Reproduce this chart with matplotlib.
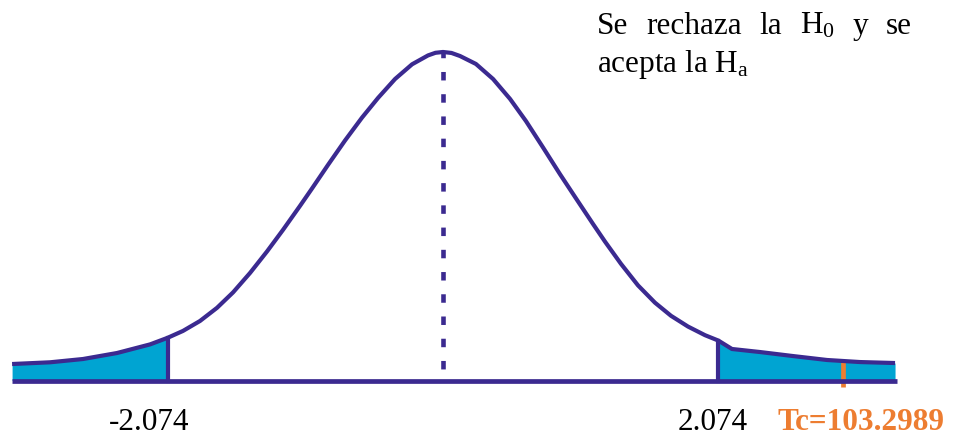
import numpy as np
import matplotlib.pyplot as plt

plt.rcParams['font.family'] = 'Liberation Serif'
plt.rcParams['mathtext.fontset'] = 'custom'
plt.rcParams['mathtext.rm'] = 'Liberation Serif'
plt.rcParams['mathtext.it'] = 'Liberation Serif:italic'
plt.rcParams['mathtext.bf'] = 'Liberation Serif:bold'

# %%
# sketch of the t distribution (schematic, tails drawn wide)
curve_t = [-3.245, -2.959, -2.711, -2.455, -2.206, -2.074, -1.958, -1.830,
           -1.702, -1.581, -1.453, -1.325, -1.205, -1.077, -0.986, -0.866,
           -0.738, -0.610, -0.489, -0.361, -0.233, -0.113, -0.057, 0.0,
           0.064, 0.128, 0.248, 0.377, 0.505, 0.625, 0.753, 0.881,
           1.002, 1.130, 1.220, 1.340, 1.468, 1.596, 1.717, 1.845,
           1.973, 2.074, 2.176, 2.387, 2.636, 2.892, 3.140, 3.404]
curve_d = [0.0201, 0.0222, 0.0262, 0.0335, 0.0440, 0.0520, 0.0604, 0.0725,
           0.0885, 0.1073, 0.1310, 0.1572, 0.1834, 0.2126, 0.2339, 0.2625,
           0.2922, 0.3201, 0.3441, 0.3671, 0.3850, 0.3958, 0.3990, 0.4000,
           0.3988, 0.3951, 0.3854, 0.3671, 0.3428, 0.3158, 0.2838, 0.2512,
           0.2216, 0.1905, 0.1691, 0.1421, 0.1159, 0.0948, 0.0788, 0.0657,
           0.0552, 0.0486, 0.0384, 0.0347, 0.0298, 0.0250, 0.0225, 0.0213]

t_crit = 2.074          # critical value
tc_value = 103.2989     # test statistic
tc_pos = 3.01           # where Tc sits on the (broken) axis
tc_height = 0.0225

line1_words = ['Se', 'rechaza', 'la', r'H$_0$', 'y', 'se']
line2 = r'acepta la H$_\mathrm{a}$'

# %%
purple = '#3b2a90'
cyan = '#00a4d2'
orange = '#ed7d31'
fs = 22.5

t = np.array(curve_t)
d = np.array(curve_d)

fig = plt.figure(figsize=(9.56, 4.35), dpi=100)
ax = fig.add_axes([0, 0, 1, 1])
ax.set_xlim(-3.336, 3.863)
ax.set_ylim(-0.0651, 0.4645)
ax.axis('off')

left = t <= -t_crit + 1e-9
right = t >= t_crit - 1e-9
ax.fill_between(t[left], 0, d[left], color=cyan, lw=0, zorder=1)
ax.fill_between(t[right], 0, d[right], color=cyan, lw=0, zorder=1)

ax.plot(t, d, color=purple, lw=3.0, solid_capstyle='butt',
        solid_joinstyle='round', zorder=3)
ax.plot([t[0], t[-1] + 0.015], [0, 0], color=purple, lw=3.4,
        solid_capstyle='butt', zorder=4)

d_crit_l = d[np.argmin(abs(t + t_crit))]
d_crit_r = d[np.argmin(abs(t - t_crit))]
ax.plot([-t_crit, -t_crit], [0, d_crit_l], color=purple, lw=3.0, zorder=3)
ax.plot([t_crit, t_crit], [0, d_crit_r], color=purple, lw=3.0, zorder=3)

# mean line
ax.plot([0, 0], [d.max(), 0], color=purple, lw=3.3, ls=(0.6, (1.85, 3.0)),
        dash_capstyle='butt', zorder=2)

# Tc marker (below the baseline)
ax.plot([tc_pos, tc_pos], [-0.0079, tc_height], color=orange, lw=3.4,
        solid_capstyle='butt', zorder=2)

ax.annotate(f'{-t_crit:.3f}', xy=(-t_crit, 0), xytext=(-18, -48),
            textcoords='offset pixels', ha='center', va='baseline', fontsize=fs)
ax.annotate(f'{t_crit:.3f}', xy=(t_crit, 0), xytext=(-6, -48),
            textcoords='offset pixels', ha='center', va='baseline', fontsize=fs)
ax.annotate(f'Tc={tc_value}', xy=(tc_pos, 0), xytext=(18, -48),
            textcoords='offset pixels', ha='center', va='baseline',
            fontsize=fs, color=orange, fontweight='bold')

# justified two-line note
W, H = 956, 435
x0, x1 = 597, 912
r = fig.canvas.get_renderer()
words = [fig.text(0, 1 - 34 / H, w, fontsize=fs, va='baseline') for w in line1_words]
widths = [w.get_window_extent(renderer=r).width for w in words]
gap = (x1 - x0 - sum(widths)) / (len(words) - 1)
x = x0
for w, wd in zip(words, widths):
    w.set_x(x / W)
    x += wd + gap
fig.text(x0 / W, 1 - 72 / H, line2, fontsize=fs, va='baseline')

fig.savefig('out.png', dpi=100)
